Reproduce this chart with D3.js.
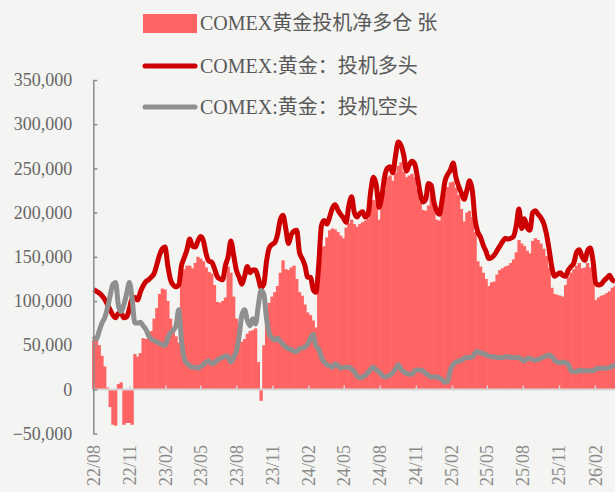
<!DOCTYPE html>
<html>
<head>
<meta charset="utf-8">
<script src="https://cdn.jsdelivr.net/npm/d3@7"></script>
<style>
html, body { margin: 0; padding: 0; background: #f4f4f2; }
svg { display: block; font-family: "Liberation Serif", "Noto Sans CJK SC", serif; }
</style>
</head>
<body>
<div id="chart"></div>
<script>
// weekly COT data, first report 2022-08-02
const firstWeek = new Date(2022, 7, 2);

const netLong = [
  56000, 56000, 50000, 38000, 26000, 2000, -20000, -40000, -41000, 6000,
  8000, -40000, -38000, -38000, -40000, 40000, 37000, 41000, 58000, 57000,
  60000, 66000, 80000, 92000, 108000, 114000, 113000, 100000, 80000, 70000,
  60000, 53000, 130000, 136000, 140000, 140000, 137000, 143000, 150000, 148000,
  145000, 138000, 133000, 131000, 118000, 99000, 98000, 100000, 104000, 139000,
  132000, 105000, 80000, 62000, 54000, 57000, 63000, 66000, 67000, 69000,
  31000, -13000, 50000, 80000, 98000, 105000, 110000, 117000, 132000, 146000,
  136000, 135000, 138000, 140000, 125000, 110000, 106000, 96000, 87000, 84000,
  78000, 70000, 155000, 161000, 162000, 172000, 180000, 182000, 181000, 178000,
  174000, 171000, 183000, 188000, 192000, 187000, 184000, 187000, 189000, 191000,
  193000, 210000, 214000, 210000, 192000, 212000, 225000, 240000, 242000, 236000,
  245000, 253000, 257000, 246000, 240000, 242000, 244000, 240000, 227000, 212000,
  203000, 202000, 208000, 225000, 207000, 192000, 191000, 205000, 222000, 229000,
  234000, 235000, 228000, 220000, 204000, 190000, 200000, 202000, 195000, 178000,
  145000, 139000, 132000, 125000, 117000, 121000, 122000, 130000, 135000, 137000,
  139000, 140000, 143000, 147000, 155000, 169000, 165000, 162000, 157000, 154000,
  168000, 171000, 169000, 165000, 159000, 151000, 138000, 115000, 108000, 107000,
  106000, 105000, 118000, 127000, 132000, 136000, 140000, 143000, 137000, 138000,
  143000, 138000, 128000, 101000, 104000, 106000, 107000, 109000, 111000, 115000,
  117000
];

const specLong = [
  113000, 111000, 109000, 106000, 102000, 96000, 90000, 84000, 81000, 86000,
  86000, 81000, 82000, 91000, 103000, 104000, 101000, 110000, 117000, 122000,
  124000, 127000, 131000, 141000, 152000, 159000, 161000, 140000, 124000, 118000,
  116000, 118000, 140000, 149000, 158000, 170000, 162000, 161000, 168000, 173000,
  168000, 153000, 145000, 144000, 137000, 128000, 125000, 124000, 140000, 150000,
  168000, 152000, 135000, 127000, 119000, 128000, 139000, 132000, 135000, 135000,
  126000, 115000, 119000, 145000, 160000, 164000, 166000, 175000, 192000, 197000,
  182000, 165000, 175000, 179000, 180000, 155000, 148000, 140000, 127000, 127000,
  113000, 110000, 140000, 185000, 191000, 187000, 195000, 205000, 209000, 203000,
  198000, 194000, 189000, 208000, 218000, 200000, 195000, 199000, 201000, 195000,
  198000, 225000, 240000, 231000, 206000, 218000, 240000, 250000, 252000, 245000,
  264000, 280000, 276000, 265000, 247000, 254000, 258000, 255000, 240000, 222000,
  212000, 215000, 233000, 231000, 212000, 202000, 198000, 214000, 235000, 243000,
  248000, 256000, 240000, 230000, 222000, 215000, 225000, 236000, 225000, 192000,
  178000, 172000, 163000, 156000, 148000, 149000, 152000, 157000, 162000, 167000,
  171000, 170000, 171000, 173000, 185000, 204000, 182000, 193000, 183000, 180000,
  200000, 202000, 198000, 194000, 188000, 176000, 158000, 138000, 128000, 130000,
  132000, 129000, 128000, 135000, 139000, 143000, 155000, 158000, 150000, 146000,
  157000, 160000, 145000, 120000, 118000, 119000, 123000, 126000, 129000, 124000,
  122000
];

const specShort = [
  60000, 57000, 66000, 75000, 81000, 92000, 106000, 119000, 121000, 95000,
  88000, 96000, 108000, 121000, 103000, 75000, 75000, 76000, 72000, 68000,
  61000, 57000, 55000, 54000, 52000, 51000, 50000, 58000, 64000, 67000,
  72000, 90000, 55000, 35000, 29000, 27000, 25000, 25000, 24000, 26000,
  28000, 31000, 32000, 29000, 30000, 33000, 35000, 36000, 38000, 37000,
  31000, 36000, 43000, 60000, 84000, 90000, 78000, 72000, 80000, 74000,
  95000, 112000, 108000, 80000, 63000, 58000, 56000, 58000, 54000, 51000,
  48000, 46000, 45000, 43000, 43000, 46000, 47000, 48000, 51000, 58000,
  62000, 49000, 46000, 36000, 31000, 28000, 27000, 25000, 29000, 27000,
  24000, 25000, 25000, 25000, 23000, 20000, 15000, 13000, 14000, 16000,
  19000, 23000, 25000, 22000, 20000, 16000, 14000, 15000, 16000, 19000,
  23000, 28000, 23000, 20000, 18000, 17000, 17000, 21000, 22000, 22000,
  21000, 18000, 16000, 14000, 14000, 14000, 13000, 11000, 8000, 9000,
  22000, 28000, 31000, 32000, 33000, 35000, 36000, 36000, 37000, 41000,
  43000, 41000, 41000, 39000, 38000, 37000, 37000, 36000, 36000, 36000,
  37000, 37000, 36000, 36000, 36000, 36000, 34000, 32000, 35000, 35000,
  34000, 33000, 34000, 35000, 37000, 38000, 39000, 37000, 33000, 31000,
  30000, 31000, 30000, 28000, 21000, 20000, 20000, 22000, 21000, 21000,
  21000, 21000, 21000, 23000, 24000, 24000, 24000, 24000, 25000, 26000,
  28000
];

const tickMonths = [
  "2022-08", "2022-11", "2023-02", "2023-05", "2023-08", "2023-11", "2024-02",
  "2024-05", "2024-08", "2024-11", "2025-02", "2025-05", "2025-08", "2025-11", "2026-02"
];
const tickLabels = [
  "22/08", "22/11", "23/02", "23/05", "23/08", "23/11", "24/02",
  "24/05", "24/08", "24/11", "25/02", "25/05", "25/08", "25/11", "26/02"
];
const yTicks = [-50000, 0, 50000, 100000, 150000, 200000, 250000, 300000, 350000];
const seriesNames = ["COMEX黄金投机净多仓 张", "COMEX:黄金：投机多头", "COMEX:黄金：投机空头"];

const width = 615, height = 492;
const barColor = "#ff6464", longColor = "#cc0000", shortColor = "#8f8f8f";

const weeks = netLong.map(function(d, i) { return d3.timeDay.offset(firstWeek, 7 * i); });
const rows = weeks.map(function(d, i) {
  return { date: d, net: netLong[i], long: specLong[i], short: specShort[i] };
});
const parseMonth = d3.timeParse("%Y-%m");
const tickDates = tickMonths.map(parseMonth);

const x = d3.scaleTime()
  .domain([tickDates[0], tickDates[tickDates.length - 1]])
  .range([93.3, 595]);
const y = d3.scaleLinear()
  .domain([-50000, 350000])
  .range([433.6, 80]);

const svg = d3.select("#chart").append("svg")
  .attr("width", width)
  .attr("height", height);

svg.append("rect")
  .attr("width", width).attr("height", height)
  .attr("fill", "#f4f4f2");

// net long bars, wide enough to touch each other
svg.append("g")
  .selectAll("rect")
  .data(rows).enter()
  .append("rect")
    .attr("x", function(d) { return x(d.date) - 1.6; })
    .attr("width", 3.3)
    .attr("y", function(d) { return y(Math.max(0, d.net)); })
    .attr("height", function(d) { return Math.abs(y(d.net) - y(0)); })
    .attr("fill", barColor);

// zero axis
const xAxis = svg.append("g")
  .attr("transform", `translate(0, ${y(0)})`)
  .call(d3.axisBottom(x).tickValues(tickDates).tickSize(-4).tickFormat(""));
xAxis.select(".domain").remove();
xAxis.selectAll(".tick line").attr("stroke", "#d2d2d2").attr("stroke-width", 1.5);
svg.append("line")
  .attr("x1", 93).attr("x2", width)
  .attr("y1", y(0)).attr("y2", y(0))
  .attr("stroke", "#d6d6d6")
  .attr("stroke-width", 2);

const line = function(key) {
  return d3.line()
    .x(function(d) { return x(d.date); })
    .y(function(d) { return y(d[key]); })
    .curve(d3.curveMonotoneX);
};

svg.append("path")
  .datum(rows)
  .attr("d", line("long"))
  .attr("fill", "none")
  .attr("stroke", longColor)
  .attr("stroke-width", 5)
  .attr("stroke-linejoin", "round");

svg.append("path")
  .datum(rows)
  .attr("d", line("short"))
  .attr("fill", "none")
  .attr("stroke", shortColor)
  .attr("stroke-width", 5)
  .attr("stroke-linejoin", "round");

// y axis
const yAxis = svg.append("g")
  .attr("transform", "translate(93.3, 0)")
  .call(d3.axisLeft(y).tickValues(yTicks).tickSizeInner(-4).tickSizeOuter(0)
    .tickPadding(21).tickFormat(d3.format(",")));
yAxis.select(".domain").attr("stroke", "#8c8c8c").attr("stroke-width", 1.5);
yAxis.selectAll(".tick line").attr("stroke", "#8c8c8c").attr("stroke-width", 1.5);
yAxis.selectAll("text")
  .attr("fill", "#666")
  .style("font-size", "18px")
  .style("font-family", "Liberation Serif");

// rotated month labels
svg.append("g")
  .selectAll("text")
  .data(tickDates).enter()
  .append("text")
    .attr("transform", function(d) { return `translate(${x(d) + 6.5}, 445) rotate(-90)`; })
    .attr("text-anchor", "end")
    .attr("fill", "#8a8a8a")
    .style("font-size", "18px")
    .text(function(d, i) { return tickLabels[i]; });

// legend
const legend = svg.append("g");
legend.append("rect")
  .attr("x", 143).attr("y", 14)
  .attr("width", 54).attr("height", 19)
  .attr("fill", barColor);
legend.append("line")
  .attr("x1", 145).attr("x2", 195).attr("y1", 66).attr("y2", 66)
  .attr("stroke", longColor).attr("stroke-width", 5).attr("stroke-linecap", "round");
legend.append("line")
  .attr("x1", 145).attr("x2", 195).attr("y1", 107).attr("y2", 107)
  .attr("stroke", shortColor).attr("stroke-width", 5).attr("stroke-linecap", "round");
legend.selectAll("text")
  .data(seriesNames).enter()
  .append("text")
    .attr("x", 200)
    .attr("y", function(d, i) { return [30, 73, 114][i]; })
    .attr("fill", "#595959")
    .style("font-size", "20px")
    .text(function(d) { return d; });
</script>
</body>
</html>
